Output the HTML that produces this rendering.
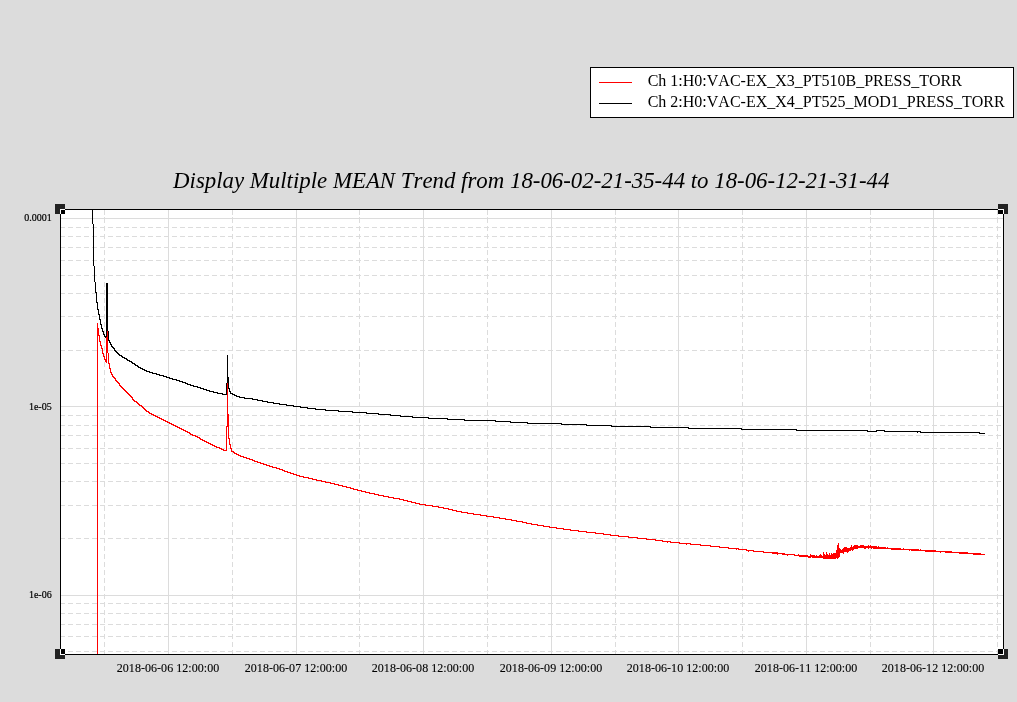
<!DOCTYPE html>
<html><head><meta charset="utf-8"><title>Trend</title>
<style>
html,body{margin:0;padding:0;background:#dcdcdc;}
body{width:1017px;height:702px;overflow:hidden;font-family:"Liberation Serif",serif;}
svg{display:block;position:absolute;left:0;top:0}
text{font-family:"Liberation Serif",serif;fill:#000;font-kerning:none}
</style></head><body>
<svg width="1017" height="702" viewBox="0 0 1017 702">
<rect x="0" y="0" width="1017" height="702" fill="#dcdcdc"/>

<g shape-rendering="crispEdges">
<rect x="590.5" y="67.5" width="423" height="50" fill="#fff" stroke="#000" stroke-width="1"/>
<rect x="599" y="82" width="33" height="1" fill="#f00"/>
<rect x="599" y="103" width="33" height="1" fill="#000"/>
<rect x="55" y="204" width="10" height="10" fill="#222"/>
<rect x="998" y="204" width="10" height="10" fill="#222"/>
<rect x="55" y="649" width="10" height="10" fill="#222"/>
<rect x="998" y="649" width="10" height="10" fill="#222"/>
<rect x="60" y="209" width="944" height="446" fill="#fff"/>
<rect x="60" y="218" width="943" height="1" fill="#dcdcdc"/><rect x="60" y="406" width="943" height="1" fill="#dcdcdc"/><rect x="60" y="595" width="943" height="1" fill="#dcdcdc"/><rect x="168" y="209" width="1" height="445" fill="#dcdcdc"/><rect x="296" y="209" width="1" height="445" fill="#dcdcdc"/><rect x="423" y="209" width="1" height="445" fill="#dcdcdc"/><rect x="551" y="209" width="1" height="445" fill="#dcdcdc"/><rect x="678" y="209" width="1" height="445" fill="#dcdcdc"/><rect x="806" y="209" width="1" height="445" fill="#dcdcdc"/><rect x="933" y="209" width="1" height="445" fill="#dcdcdc"/>
<path d="M60 227.5H1003M60 236.5H1003M60 247.5H1003M60 260.5H1003M60 275.5H1003M60 293.5H1003M60 316.5H1003M60 350.5H1003M60 415.5H1003M60 425.5H1003M60 435.5H1003M60 448.5H1003M60 463.5H1003M60 481.5H1003M60 505.5H1003M60 538.5H1003M60 603.5H1003M60 613.5H1003M60 624.5H1003M60 636.5H1003M60 651.5H1003" stroke="#dcdcdc" stroke-width="1" stroke-dasharray="5 3" fill="none"/>
<path d="M104.5 210V654M232.5 210V654M359.5 210V654M487.5 210V654M615.5 210V654M742.5 210V654M870.5 210V654M997.5 210V654" stroke="#dcdcdc" stroke-width="1" stroke-dasharray="5 3" fill="none"/>
<rect x="104" y="217" width="1" height="1" fill="#dcdcdc"/><rect x="232" y="217" width="1" height="1" fill="#dcdcdc"/><rect x="359" y="217" width="1" height="1" fill="#dcdcdc"/><rect x="487" y="217" width="1" height="1" fill="#dcdcdc"/><rect x="615" y="217" width="1" height="1" fill="#dcdcdc"/><rect x="742" y="217" width="1" height="1" fill="#dcdcdc"/><rect x="870" y="217" width="1" height="1" fill="#dcdcdc"/><rect x="997" y="217" width="1" height="1" fill="#dcdcdc"/>
<path d="M92 210h1v14h-1zM93 224h1v42h-1zM94 266h1v16h-1zM95 282h1v11h-1zM96 292h1v11h-1zM97 302h1v8h-1zM98 309h1v6h-1zM99 314h1v6h-1zM100 319h1v6h-1zM101 324h1v5h-1zM102 328h1v4h-1zM103 331h1v4h-1zM104 334h1v3h-1zM105 336h1v2h-1zM106 283h1v56h-1zM107 283h1v56h-1zM108 331h1v7h-1zM108 337h1v4h-1zM109 340h1v3h-1zM110 342h1v3h-1zM111 344h1v3h-1zM112 346h1v2h-1zM113 347h1v2h-1zM114 348h1v3h-1zM115 350h1v2h-1zM116 351h1v2h-1zM117 352h1v2h-1zM118 353h1v2h-1zM119 354h1v2h-1zM120 355h1v1h-1zM121 355h1v2h-1zM122 356h1v2h-1zM123 357h1v1h-1zM124 357h1v2h-1zM125 358h1v1h-1zM126 358h1v2h-1zM127 359h1v2h-1zM128 360h1v1h-1zM129 360h1v2h-1zM130 361h1v1h-1zM131 361h1v2h-1zM132 362h1v2h-1zM133 363h1v1h-1zM134 363h1v2h-1zM135 364h1v2h-1zM136 365h1v1h-1zM137 365h1v2h-1zM138 366h1v2h-1zM139 367h1v1h-1zM140 367h1v2h-1zM141 368h1v1h-1zM142 368h1v2h-1zM143 369h1v1h-1zM144 369h1v2h-1zM145 370h1v1h-1zM146 370h1v2h-1zM147 371h1v1h-1zM148 371h1v1h-1zM149 371h1v2h-1zM150 372h1v1h-1zM151 372h1v1h-1zM152 372h1v2h-1zM153 373h1v1h-1zM154 373h1v1h-1zM155 373h1v1h-1zM156 373h1v2h-1zM157 374h1v1h-1zM158 374h1v1h-1zM159 374h1v2h-1zM160 375h1v1h-1zM161 375h1v1h-1zM162 375h1v1h-1zM163 375h1v2h-1zM164 376h1v1h-1zM165 376h1v1h-1zM166 376h1v2h-1zM167 377h1v1h-1zM168 377h1v1h-1zM169 377h1v2h-1zM170 378h1v1h-1zM171 378h1v1h-1zM172 378h1v2h-1zM173 379h1v1h-1zM174 379h1v1h-1zM175 379h1v1h-1zM176 379h1v2h-1zM177 380h1v1h-1zM178 380h1v1h-1zM179 380h1v2h-1zM180 381h1v1h-1zM181 381h1v1h-1zM182 381h1v2h-1zM183 382h1v1h-1zM184 382h1v1h-1zM185 382h1v2h-1zM186 383h1v1h-1zM187 383h1v2h-1zM188 384h1v1h-1zM189 384h1v1h-1zM190 384h1v2h-1zM191 385h1v1h-1zM192 385h1v1h-1zM193 385h1v2h-1zM194 386h1v1h-1zM195 386h1v1h-1zM196 386h1v1h-1zM197 386h1v2h-1zM198 387h1v1h-1zM199 387h1v1h-1zM200 387h1v2h-1zM201 388h1v1h-1zM202 388h1v1h-1zM203 388h1v2h-1zM204 389h1v1h-1zM205 389h1v1h-1zM206 389h1v2h-1zM207 390h1v1h-1zM208 390h1v1h-1zM209 390h1v2h-1zM210 391h1v1h-1zM211 391h1v1h-1zM212 391h1v1h-1zM213 391h1v2h-1zM214 392h1v1h-1zM215 392h1v1h-1zM216 392h1v1h-1zM217 392h1v2h-1zM218 393h1v1h-1zM219 393h1v1h-1zM220 393h1v1h-1zM221 393h1v1h-1zM222 393h1v2h-1zM223 394h1v1h-1zM224 394h1v1h-1zM225 394h1v1h-1zM226 383h1v12h-1zM227 355h1v29h-1zM228 377h1v12h-1zM229 388h1v4h-1zM230 391h1v3h-1zM231 393h1v1h-1zM232 393h1v2h-1zM233 394h1v1h-1zM234 394h1v2h-1zM235 395h1v1h-1zM236 395h1v2h-1zM237 396h1v1h-1zM238 396h1v1h-1zM239 396h1v2h-1zM240 397h1v1h-1zM241 397h1v1h-1zM242 397h1v1h-1zM243 397h1v1h-1zM244 397h1v2h-1zM245 398h1v1h-1zM246 398h1v1h-1zM247 398h1v1h-1zM248 398h1v1h-1zM249 398h1v1h-1zM250 398h1v1h-1zM251 398h1v1h-1zM252 398h1v2h-1zM253 399h1v1h-1zM254 399h1v1h-1zM255 399h1v1h-1zM256 399h1v1h-1zM257 399h1v2h-1zM258 400h1v1h-1zM259 400h1v1h-1zM260 400h1v1h-1zM261 400h1v1h-1zM262 400h1v2h-1zM263 401h1v1h-1zM264 401h1v1h-1zM265 401h1v1h-1zM266 401h1v1h-1zM267 401h1v2h-1zM268 402h1v1h-1zM269 402h1v1h-1zM270 402h1v1h-1zM271 402h1v1h-1zM272 402h1v1h-1zM273 402h1v2h-1zM274 403h1v1h-1zM275 403h1v1h-1zM276 403h1v1h-1zM277 403h1v1h-1zM278 403h1v1h-1zM279 403h1v2h-1zM280 404h1v1h-1zM281 404h1v1h-1zM282 404h1v1h-1zM283 404h1v1h-1zM284 404h1v1h-1zM285 404h1v1h-1zM286 404h1v2h-1zM287 405h1v1h-1zM288 405h1v1h-1zM289 405h1v1h-1zM290 405h1v1h-1zM291 405h1v1h-1zM292 405h1v1h-1zM293 405h1v2h-1zM294 406h1v1h-1zM295 406h1v1h-1zM296 406h1v1h-1zM297 406h1v1h-1zM298 406h1v1h-1zM299 406h1v1h-1zM300 406h1v2h-1zM301 407h1v1h-1zM302 407h1v1h-1zM303 407h1v1h-1zM304 407h1v1h-1zM305 407h1v1h-1zM306 407h1v1h-1zM307 407h1v2h-1zM308 408h1v1h-1zM309 408h1v1h-1zM310 408h1v1h-1zM311 408h1v1h-1zM312 408h1v1h-1zM313 408h1v1h-1zM314 408h1v1h-1zM315 408h1v2h-1zM316 409h1v1h-1zM317 409h1v1h-1zM318 409h1v1h-1zM319 409h1v1h-1zM320 409h1v1h-1zM321 409h1v1h-1zM322 409h1v1h-1zM323 409h1v1h-1zM324 409h1v1h-1zM325 409h1v2h-1zM326 410h1v1h-1zM327 410h1v1h-1zM328 410h1v1h-1zM329 410h1v1h-1zM330 410h1v1h-1zM331 410h1v1h-1zM332 410h1v1h-1zM333 410h1v1h-1zM334 410h1v1h-1zM335 410h1v1h-1zM336 410h1v1h-1zM337 410h1v1h-1zM338 410h1v2h-1zM339 411h1v1h-1zM340 411h1v1h-1zM341 411h1v1h-1zM342 411h1v1h-1zM343 411h1v1h-1zM344 411h1v1h-1zM345 411h1v1h-1zM346 411h1v1h-1zM347 411h1v1h-1zM348 411h1v1h-1zM349 411h1v1h-1zM350 411h1v1h-1zM351 411h1v1h-1zM352 411h1v2h-1zM353 412h1v1h-1zM354 412h1v1h-1zM355 412h1v1h-1zM356 412h1v1h-1zM357 412h1v1h-1zM358 412h1v1h-1zM359 412h1v1h-1zM360 412h1v1h-1zM361 412h1v1h-1zM362 412h1v1h-1zM363 412h1v1h-1zM364 412h1v1h-1zM365 412h1v1h-1zM366 412h1v2h-1zM367 413h1v1h-1zM368 413h1v1h-1zM369 413h1v1h-1zM370 413h1v1h-1zM371 413h1v1h-1zM372 413h1v1h-1zM373 413h1v1h-1zM374 413h1v1h-1zM375 413h1v1h-1zM376 413h1v1h-1zM377 413h1v1h-1zM378 413h1v2h-1zM379 414h1v1h-1zM380 414h1v1h-1zM381 414h1v1h-1zM382 414h1v1h-1zM383 414h1v1h-1zM384 414h1v1h-1zM385 414h1v1h-1zM386 414h1v1h-1zM387 414h1v1h-1zM388 414h1v1h-1zM389 414h1v1h-1zM390 414h1v2h-1zM391 415h1v1h-1zM392 415h1v1h-1zM393 415h1v1h-1zM394 415h1v1h-1zM395 415h1v1h-1zM396 415h1v1h-1zM397 415h1v1h-1zM398 415h1v1h-1zM399 415h1v1h-1zM400 415h1v2h-1zM401 416h1v1h-1zM402 416h1v1h-1zM403 416h1v1h-1zM404 416h1v1h-1zM405 416h1v1h-1zM406 416h1v1h-1zM407 416h1v1h-1zM408 416h1v1h-1zM409 416h1v1h-1zM410 416h1v1h-1zM411 416h1v1h-1zM412 416h1v2h-1zM413 417h1v1h-1zM414 417h1v1h-1zM415 417h1v1h-1zM416 417h1v1h-1zM417 417h1v1h-1zM418 417h1v1h-1zM419 417h1v1h-1zM420 417h1v1h-1zM421 417h1v1h-1zM422 417h1v1h-1zM423 417h1v1h-1zM424 417h1v1h-1zM425 417h1v1h-1zM426 417h1v1h-1zM427 417h1v1h-1zM428 417h1v2h-1zM429 418h1v1h-1zM430 418h1v1h-1zM431 418h1v1h-1zM432 418h1v1h-1zM433 418h1v1h-1zM434 418h1v1h-1zM435 418h1v1h-1zM436 418h1v1h-1zM437 418h1v1h-1zM438 418h1v1h-1zM439 418h1v1h-1zM440 418h1v1h-1zM441 418h1v1h-1zM442 418h1v1h-1zM443 418h1v1h-1zM444 418h1v1h-1zM445 418h1v1h-1zM446 418h1v1h-1zM447 418h1v2h-1zM448 419h1v1h-1zM449 419h1v1h-1zM450 419h1v1h-1zM451 419h1v1h-1zM452 419h1v1h-1zM453 419h1v1h-1zM454 419h1v1h-1zM455 419h1v1h-1zM456 419h1v1h-1zM457 419h1v1h-1zM458 419h1v1h-1zM459 419h1v1h-1zM460 419h1v1h-1zM461 419h1v1h-1zM462 419h1v1h-1zM463 419h1v1h-1zM464 419h1v2h-1zM465 420h1v1h-1zM466 420h1v1h-1zM467 420h1v1h-1zM468 420h1v1h-1zM469 420h1v1h-1zM470 420h1v1h-1zM471 420h1v1h-1zM472 420h1v1h-1zM473 420h1v1h-1zM474 420h1v1h-1zM475 420h1v1h-1zM476 420h1v1h-1zM477 420h1v1h-1zM478 420h1v1h-1zM479 420h1v1h-1zM480 420h1v1h-1zM481 420h1v1h-1zM482 420h1v1h-1zM483 420h1v1h-1zM484 420h1v1h-1zM485 420h1v1h-1zM486 420h1v1h-1zM487 420h1v1h-1zM488 420h1v1h-1zM489 420h1v1h-1zM490 420h1v1h-1zM491 420h1v1h-1zM492 420h1v1h-1zM493 420h1v1h-1zM494 420h1v1h-1zM495 420h1v2h-1zM496 421h1v1h-1zM497 421h1v1h-1zM498 421h1v1h-1zM499 421h1v1h-1zM500 421h1v1h-1zM501 421h1v1h-1zM502 421h1v1h-1zM503 421h1v1h-1zM504 421h1v1h-1zM505 421h1v1h-1zM506 421h1v1h-1zM507 421h1v1h-1zM508 421h1v1h-1zM509 421h1v1h-1zM510 421h1v2h-1zM511 422h1v1h-1zM512 422h1v1h-1zM513 422h1v1h-1zM514 422h1v1h-1zM515 422h1v1h-1zM516 422h1v1h-1zM517 422h1v1h-1zM518 422h1v1h-1zM519 422h1v1h-1zM520 422h1v1h-1zM521 422h1v1h-1zM522 422h1v1h-1zM523 422h1v1h-1zM524 422h1v1h-1zM525 422h1v1h-1zM526 422h1v1h-1zM527 422h1v2h-1zM528 423h1v1h-1zM529 423h1v1h-1zM530 423h1v1h-1zM531 423h1v1h-1zM532 423h1v1h-1zM533 423h1v1h-1zM534 423h1v1h-1zM535 423h1v1h-1zM536 423h1v1h-1zM537 423h1v1h-1zM538 423h1v1h-1zM539 423h1v1h-1zM540 423h1v1h-1zM541 423h1v1h-1zM542 423h1v1h-1zM543 423h1v1h-1zM544 423h1v1h-1zM545 423h1v1h-1zM546 423h1v1h-1zM547 423h1v1h-1zM548 423h1v1h-1zM549 423h1v1h-1zM550 423h1v1h-1zM551 423h1v1h-1zM552 423h1v1h-1zM553 423h1v1h-1zM554 423h1v1h-1zM555 423h1v1h-1zM556 423h1v1h-1zM557 423h1v1h-1zM558 423h1v1h-1zM559 423h1v1h-1zM560 423h1v1h-1zM561 423h1v2h-1zM562 424h1v1h-1zM563 424h1v1h-1zM564 424h1v1h-1zM565 424h1v1h-1zM566 424h1v1h-1zM567 424h1v1h-1zM568 424h1v1h-1zM569 424h1v1h-1zM570 424h1v1h-1zM571 424h1v1h-1zM572 424h1v1h-1zM573 424h1v1h-1zM574 424h1v1h-1zM575 424h1v1h-1zM576 424h1v1h-1zM577 424h1v1h-1zM578 424h1v1h-1zM579 424h1v1h-1zM580 424h1v1h-1zM581 424h1v1h-1zM582 424h1v1h-1zM583 424h1v1h-1zM584 424h1v1h-1zM585 424h1v1h-1zM586 424h1v2h-1zM587 425h1v1h-1zM588 425h1v1h-1zM589 425h1v1h-1zM590 425h1v1h-1zM591 425h1v1h-1zM592 425h1v1h-1zM593 425h1v1h-1zM594 425h1v1h-1zM595 425h1v1h-1zM596 425h1v1h-1zM597 425h1v1h-1zM598 425h1v1h-1zM599 425h1v1h-1zM600 425h1v1h-1zM601 425h1v1h-1zM602 425h1v1h-1zM603 425h1v1h-1zM604 425h1v1h-1zM605 425h1v1h-1zM606 425h1v1h-1zM607 425h1v1h-1zM608 425h1v1h-1zM609 425h1v1h-1zM610 425h1v1h-1zM611 425h1v2h-1zM612 426h1v1h-1zM613 426h1v1h-1zM614 426h1v1h-1zM615 426h1v1h-1zM616 426h1v1h-1zM617 426h1v1h-1zM618 426h1v1h-1zM619 426h1v1h-1zM620 426h1v1h-1zM621 426h1v1h-1zM622 426h1v1h-1zM623 426h1v1h-1zM624 426h1v1h-1zM625 426h1v1h-1zM626 426h1v1h-1zM627 426h1v1h-1zM628 426h1v1h-1zM629 426h1v1h-1zM630 426h1v1h-1zM631 426h1v1h-1zM632 426h1v1h-1zM633 426h1v1h-1zM634 426h1v1h-1zM635 426h1v1h-1zM636 426h1v1h-1zM637 426h1v1h-1zM638 426h1v1h-1zM639 426h1v1h-1zM640 426h1v1h-1zM641 426h1v1h-1zM642 426h1v1h-1zM643 426h1v1h-1zM644 426h1v1h-1zM645 426h1v1h-1zM646 426h1v1h-1zM647 426h1v1h-1zM648 426h1v1h-1zM649 426h1v1h-1zM650 426h1v2h-1zM651 427h1v1h-1zM652 427h1v1h-1zM653 427h1v1h-1zM654 427h1v1h-1zM655 427h1v1h-1zM656 427h1v1h-1zM657 427h1v1h-1zM658 427h1v1h-1zM659 427h1v1h-1zM660 427h1v1h-1zM661 427h1v1h-1zM662 427h1v1h-1zM663 427h1v1h-1zM664 427h1v1h-1zM665 427h1v1h-1zM666 427h1v1h-1zM667 427h1v1h-1zM668 427h1v1h-1zM669 427h1v1h-1zM670 427h1v1h-1zM671 427h1v1h-1zM672 427h1v1h-1zM673 427h1v1h-1zM674 427h1v1h-1zM675 427h1v1h-1zM676 427h1v1h-1zM677 427h1v1h-1zM678 427h1v1h-1zM679 427h1v1h-1zM680 427h1v1h-1zM681 427h1v1h-1zM682 427h1v1h-1zM683 427h1v1h-1zM684 427h1v1h-1zM685 427h1v1h-1zM686 427h1v1h-1zM687 427h1v1h-1zM688 427h1v2h-1zM689 428h1v1h-1zM690 428h1v1h-1zM691 428h1v1h-1zM692 428h1v1h-1zM693 428h1v1h-1zM694 428h1v1h-1zM695 428h1v1h-1zM696 428h1v1h-1zM697 428h1v1h-1zM698 428h1v1h-1zM699 428h1v1h-1zM700 428h1v1h-1zM701 428h1v1h-1zM702 428h1v1h-1zM703 428h1v1h-1zM704 428h1v1h-1zM705 428h1v1h-1zM706 428h1v1h-1zM707 428h1v1h-1zM708 428h1v1h-1zM709 428h1v1h-1zM710 428h1v1h-1zM711 428h1v1h-1zM712 428h1v1h-1zM713 428h1v1h-1zM714 428h1v1h-1zM715 428h1v1h-1zM716 428h1v1h-1zM717 428h1v1h-1zM718 428h1v1h-1zM719 428h1v1h-1zM720 428h1v1h-1zM721 428h1v1h-1zM722 428h1v1h-1zM723 428h1v1h-1zM724 428h1v1h-1zM725 428h1v1h-1zM726 428h1v1h-1zM727 428h1v1h-1zM728 428h1v1h-1zM729 428h1v1h-1zM730 428h1v1h-1zM731 428h1v1h-1zM732 428h1v1h-1zM733 428h1v1h-1zM734 428h1v1h-1zM735 428h1v1h-1zM736 428h1v1h-1zM737 428h1v1h-1zM738 428h1v1h-1zM739 428h1v1h-1zM740 428h1v1h-1zM741 428h1v2h-1zM742 429h1v1h-1zM743 429h1v1h-1zM744 429h1v1h-1zM745 429h1v1h-1zM746 429h1v1h-1zM747 429h1v1h-1zM748 429h1v1h-1zM749 429h1v1h-1zM750 429h1v1h-1zM751 429h1v1h-1zM752 429h1v1h-1zM753 429h1v1h-1zM754 429h1v1h-1zM755 429h1v1h-1zM756 429h1v1h-1zM757 429h1v1h-1zM758 429h1v1h-1zM759 429h1v1h-1zM760 429h1v1h-1zM761 429h1v1h-1zM762 429h1v1h-1zM763 429h1v1h-1zM764 429h1v1h-1zM765 429h1v1h-1zM766 429h1v1h-1zM767 429h1v1h-1zM768 429h1v1h-1zM769 429h1v1h-1zM770 429h1v1h-1zM771 429h1v1h-1zM772 429h1v1h-1zM773 429h1v1h-1zM774 429h1v1h-1zM775 429h1v1h-1zM776 429h1v1h-1zM777 429h1v1h-1zM778 429h1v1h-1zM779 429h1v1h-1zM780 429h1v1h-1zM781 429h1v1h-1zM782 429h1v1h-1zM783 429h1v1h-1zM784 429h1v1h-1zM785 429h1v1h-1zM786 429h1v1h-1zM787 429h1v1h-1zM788 429h1v1h-1zM789 429h1v1h-1zM790 429h1v1h-1zM791 429h1v1h-1zM792 429h1v1h-1zM793 429h1v1h-1zM794 429h1v1h-1zM795 429h1v1h-1zM796 429h1v2h-1zM797 430h1v1h-1zM798 430h1v1h-1zM799 430h1v1h-1zM800 430h1v1h-1zM801 430h1v1h-1zM802 430h1v1h-1zM803 430h1v1h-1zM804 430h1v1h-1zM805 430h1v1h-1zM806 430h1v1h-1zM807 430h1v1h-1zM808 430h1v1h-1zM809 430h1v1h-1zM810 430h1v1h-1zM811 430h1v1h-1zM812 430h1v1h-1zM813 430h1v1h-1zM814 430h1v1h-1zM815 430h1v1h-1zM816 430h1v1h-1zM817 430h1v1h-1zM818 430h1v1h-1zM819 430h1v1h-1zM820 430h1v1h-1zM821 430h1v1h-1zM822 430h1v1h-1zM823 430h1v1h-1zM824 430h1v1h-1zM825 430h1v1h-1zM826 430h1v1h-1zM827 430h1v1h-1zM828 430h1v1h-1zM829 430h1v1h-1zM830 430h1v1h-1zM831 430h1v1h-1zM832 430h1v1h-1zM833 430h1v1h-1zM834 430h1v1h-1zM835 430h1v1h-1zM836 430h1v1h-1zM837 430h1v1h-1zM838 430h1v1h-1zM839 430h1v1h-1zM840 430h1v1h-1zM841 430h1v1h-1zM842 430h1v1h-1zM843 430h1v1h-1zM844 430h1v1h-1zM845 430h1v1h-1zM846 430h1v1h-1zM847 430h1v1h-1zM848 430h1v1h-1zM849 430h1v1h-1zM850 430h1v1h-1zM851 430h1v1h-1zM852 430h1v1h-1zM853 430h1v1h-1zM854 430h1v1h-1zM855 430h1v1h-1zM856 430h1v1h-1zM857 430h1v1h-1zM858 430h1v1h-1zM859 430h1v1h-1zM860 430h1v1h-1zM861 430h1v1h-1zM862 430h1v1h-1zM863 430h1v1h-1zM864 430h1v1h-1zM865 430h1v1h-1zM866 430h1v1h-1zM867 430h1v2h-1zM868 431h1v1h-1zM869 431h1v1h-1zM870 431h1v1h-1zM871 431h1v1h-1zM872 431h1v1h-1zM873 431h1v1h-1zM874 431h1v1h-1zM875 431h1v1h-1zM876 430h1v2h-1zM877 430h1v1h-1zM878 430h1v1h-1zM879 430h1v1h-1zM880 430h1v1h-1zM881 430h1v1h-1zM882 430h1v1h-1zM883 430h1v1h-1zM884 430h1v2h-1zM885 431h1v1h-1zM886 431h1v1h-1zM887 431h1v1h-1zM888 431h1v1h-1zM889 431h1v1h-1zM890 431h1v1h-1zM891 431h1v1h-1zM892 431h1v1h-1zM893 431h1v1h-1zM894 431h1v1h-1zM895 431h1v1h-1zM896 431h1v1h-1zM897 431h1v1h-1zM898 431h1v1h-1zM899 431h1v1h-1zM900 431h1v1h-1zM901 431h1v1h-1zM902 431h1v1h-1zM903 431h1v1h-1zM904 431h1v1h-1zM905 431h1v1h-1zM906 431h1v1h-1zM907 431h1v1h-1zM908 431h1v1h-1zM909 431h1v1h-1zM910 431h1v1h-1zM911 431h1v1h-1zM912 431h1v1h-1zM913 431h1v1h-1zM914 431h1v1h-1zM915 431h1v1h-1zM916 431h1v1h-1zM917 431h1v1h-1zM917 431h1v2h-1zM918 431h1v1h-1zM919 431h1v1h-1zM920 431h1v2h-1zM921 432h1v1h-1zM922 432h1v1h-1zM923 432h1v1h-1zM924 432h1v1h-1zM925 432h1v1h-1zM926 432h1v1h-1zM927 432h1v1h-1zM928 432h1v1h-1zM929 432h1v1h-1zM930 432h1v1h-1zM931 432h1v1h-1zM932 432h1v1h-1zM933 432h1v1h-1zM934 432h1v1h-1zM935 432h1v1h-1zM936 432h1v1h-1zM937 432h1v1h-1zM938 432h1v1h-1zM939 432h1v1h-1zM940 432h1v1h-1zM941 432h1v1h-1zM942 432h1v1h-1zM943 432h1v1h-1zM944 432h1v1h-1zM945 432h1v1h-1zM946 432h1v1h-1zM947 432h1v1h-1zM948 432h1v1h-1zM949 432h1v1h-1zM950 432h1v1h-1zM951 432h1v1h-1zM952 432h1v1h-1zM953 432h1v1h-1zM954 432h1v1h-1zM955 432h1v1h-1zM956 432h1v1h-1zM957 432h1v1h-1zM958 432h1v1h-1zM959 432h1v1h-1zM960 432h1v1h-1zM961 432h1v1h-1zM962 432h1v1h-1zM963 432h1v1h-1zM964 432h1v1h-1zM965 432h1v1h-1zM966 432h1v1h-1zM967 432h1v1h-1zM968 432h1v1h-1zM969 432h1v1h-1zM970 432h1v1h-1zM971 432h1v1h-1zM972 432h1v1h-1zM973 432h1v1h-1zM974 432h1v1h-1zM975 432h1v1h-1zM976 432h1v1h-1zM977 432h1v1h-1zM978 432h1v1h-1zM979 432h1v2h-1zM980 433h1v1h-1zM981 433h1v1h-1zM982 433h1v1h-1zM983 433h1v1h-1zM984 433h1v1h-1z" fill="#000"/>
<path d="M97 323h1v331h-1zM98 328h1v8h-1zM99 335h1v7h-1zM100 341h1v5h-1zM101 345h1v4h-1zM102 348h1v6h-1zM103 353h1v4h-1zM104 356h1v4h-1zM105 359h1v3h-1zM106 337h1v26h-1zM107 331h1v22h-1zM108 353h1v11h-1zM109 363h1v6h-1zM110 368h1v5h-1zM111 372h1v3h-1zM112 374h1v3h-1zM113 376h1v2h-1zM114 377h1v2h-1zM115 378h1v3h-1zM116 380h1v2h-1zM117 381h1v2h-1zM118 382h1v2h-1zM119 383h1v3h-1zM120 385h1v2h-1zM121 386h1v2h-1zM122 387h1v2h-1zM123 388h1v2h-1zM124 389h1v2h-1zM125 390h1v2h-1zM126 391h1v2h-1zM127 392h1v2h-1zM128 393h1v2h-1zM129 394h1v2h-1zM130 395h1v2h-1zM131 396h1v2h-1zM132 397h1v3h-1zM133 399h1v2h-1zM134 400h1v2h-1zM135 401h1v1h-1zM136 401h1v2h-1zM137 402h1v2h-1zM138 403h1v2h-1zM139 404h1v2h-1zM140 405h1v1h-1zM141 405h1v2h-1zM142 406h1v2h-1zM143 407h1v2h-1zM144 408h1v2h-1zM145 409h1v2h-1zM146 410h1v2h-1zM147 411h1v1h-1zM148 411h1v2h-1zM149 412h1v2h-1zM150 413h1v1h-1zM151 413h1v2h-1zM152 414h1v1h-1zM153 414h1v2h-1zM154 415h1v1h-1zM155 415h1v2h-1zM156 416h1v1h-1zM157 416h1v2h-1zM158 417h1v1h-1zM159 417h1v2h-1zM160 418h1v1h-1zM161 418h1v2h-1zM162 419h1v1h-1zM163 419h1v2h-1zM164 420h1v1h-1zM165 420h1v2h-1zM166 421h1v1h-1zM167 421h1v2h-1zM168 422h1v1h-1zM169 422h1v2h-1zM170 423h1v1h-1zM171 423h1v2h-1zM172 424h1v1h-1zM173 424h1v2h-1zM174 425h1v1h-1zM175 425h1v2h-1zM176 426h1v1h-1zM177 426h1v2h-1zM178 427h1v1h-1zM179 427h1v2h-1zM180 428h1v1h-1zM181 428h1v2h-1zM182 429h1v1h-1zM183 429h1v2h-1zM184 430h1v1h-1zM185 430h1v2h-1zM186 431h1v1h-1zM187 431h1v2h-1zM188 432h1v1h-1zM189 432h1v2h-1zM190 433h1v2h-1zM191 434h1v1h-1zM192 434h1v2h-1zM193 435h1v1h-1zM194 435h1v1h-1zM195 435h1v2h-1zM196 436h1v1h-1zM197 436h1v2h-1zM198 437h1v1h-1zM199 437h1v2h-1zM200 438h1v2h-1zM201 439h1v1h-1zM202 439h1v2h-1zM203 440h1v1h-1zM204 440h1v2h-1zM205 441h1v1h-1zM206 441h1v2h-1zM207 442h1v1h-1zM208 442h1v2h-1zM209 443h1v1h-1zM210 443h1v2h-1zM211 444h1v1h-1zM212 444h1v2h-1zM213 445h1v1h-1zM214 445h1v2h-1zM215 446h1v1h-1zM216 446h1v2h-1zM217 447h1v1h-1zM218 447h1v1h-1zM219 447h1v2h-1zM220 448h1v1h-1zM221 448h1v2h-1zM222 449h1v1h-1zM223 449h1v2h-1zM224 450h1v1h-1zM225 450h1v1h-1zM226 426h1v25h-1zM227 383h1v44h-1zM228 414h1v25h-1zM229 438h1v7h-1zM230 444h1v5h-1zM231 448h1v4h-1zM232 451h1v1h-1zM233 451h1v2h-1zM234 452h1v2h-1zM235 453h1v1h-1zM236 453h1v2h-1zM237 454h1v1h-1zM238 454h1v2h-1zM239 455h1v1h-1zM240 455h1v2h-1zM241 456h1v1h-1zM242 456h1v1h-1zM243 456h1v2h-1zM244 457h1v1h-1zM245 457h1v1h-1zM246 457h1v2h-1zM247 458h1v1h-1zM248 458h1v1h-1zM249 458h1v2h-1zM250 459h1v1h-1zM251 459h1v1h-1zM252 459h1v2h-1zM253 460h1v1h-1zM254 460h1v2h-1zM255 461h1v1h-1zM256 461h1v1h-1zM257 461h1v2h-1zM258 462h1v1h-1zM259 462h1v1h-1zM260 462h1v2h-1zM261 463h1v1h-1zM262 463h1v1h-1zM263 463h1v2h-1zM264 464h1v1h-1zM265 464h1v1h-1zM266 464h1v2h-1zM267 465h1v1h-1zM268 465h1v1h-1zM269 465h1v2h-1zM270 466h1v1h-1zM271 466h1v1h-1zM272 466h1v2h-1zM273 467h1v1h-1zM274 467h1v1h-1zM275 467h1v1h-1zM276 467h1v2h-1zM277 468h1v1h-1zM278 468h1v1h-1zM279 468h1v2h-1zM280 469h1v1h-1zM281 469h1v1h-1zM282 469h1v2h-1zM283 470h1v1h-1zM284 470h1v2h-1zM285 471h1v1h-1zM286 471h1v1h-1zM287 471h1v2h-1zM288 472h1v1h-1zM289 472h1v1h-1zM290 472h1v2h-1zM291 473h1v1h-1zM292 473h1v1h-1zM293 473h1v2h-1zM294 474h1v1h-1zM295 474h1v1h-1zM296 474h1v2h-1zM297 475h1v1h-1zM298 475h1v1h-1zM299 475h1v2h-1zM300 476h1v1h-1zM301 476h1v1h-1zM302 476h1v1h-1zM303 476h1v2h-1zM304 477h1v1h-1zM305 477h1v1h-1zM306 477h1v1h-1zM307 477h1v1h-1zM308 477h1v2h-1zM309 478h1v1h-1zM310 478h1v1h-1zM311 478h1v1h-1zM312 478h1v2h-1zM313 479h1v1h-1zM314 479h1v1h-1zM315 479h1v1h-1zM316 479h1v2h-1zM317 480h1v1h-1zM318 480h1v1h-1zM319 480h1v1h-1zM320 480h1v1h-1zM321 480h1v2h-1zM322 481h1v1h-1zM323 481h1v1h-1zM324 481h1v1h-1zM325 481h1v2h-1zM326 482h1v1h-1zM327 482h1v1h-1zM328 482h1v1h-1zM329 482h1v1h-1zM330 482h1v2h-1zM331 483h1v1h-1zM332 483h1v1h-1zM333 483h1v1h-1zM334 483h1v2h-1zM335 484h1v1h-1zM336 484h1v1h-1zM337 484h1v1h-1zM338 484h1v2h-1zM339 485h1v1h-1zM340 485h1v1h-1zM341 485h1v1h-1zM342 485h1v2h-1zM343 486h1v1h-1zM344 486h1v1h-1zM345 486h1v1h-1zM346 486h1v2h-1zM347 487h1v1h-1zM348 487h1v1h-1zM349 487h1v1h-1zM350 487h1v2h-1zM351 488h1v1h-1zM352 488h1v1h-1zM353 488h1v2h-1zM354 489h1v1h-1zM355 489h1v1h-1zM356 489h1v1h-1zM357 489h1v2h-1zM358 490h1v1h-1zM359 490h1v1h-1zM360 490h1v1h-1zM361 490h1v2h-1zM362 491h1v1h-1zM363 491h1v1h-1zM364 491h1v1h-1zM365 491h1v2h-1zM366 492h1v1h-1zM367 492h1v1h-1zM368 492h1v1h-1zM369 492h1v2h-1zM370 493h1v1h-1zM371 493h1v1h-1zM372 493h1v1h-1zM373 493h1v1h-1zM374 493h1v2h-1zM375 494h1v1h-1zM376 494h1v1h-1zM377 494h1v1h-1zM378 494h1v2h-1zM379 495h1v1h-1zM380 495h1v1h-1zM381 495h1v1h-1zM382 495h1v1h-1zM383 495h1v2h-1zM384 496h1v1h-1zM385 496h1v1h-1zM386 496h1v1h-1zM387 496h1v1h-1zM388 496h1v2h-1zM389 497h1v1h-1zM390 497h1v1h-1zM391 497h1v1h-1zM392 497h1v1h-1zM393 497h1v2h-1zM394 498h1v1h-1zM395 498h1v1h-1zM396 498h1v1h-1zM397 498h1v1h-1zM398 498h1v1h-1zM399 498h1v2h-1zM400 499h1v1h-1zM401 499h1v1h-1zM402 499h1v1h-1zM403 499h1v2h-1zM404 500h1v1h-1zM405 500h1v1h-1zM406 500h1v1h-1zM407 500h1v2h-1zM408 501h1v1h-1zM409 501h1v1h-1zM410 501h1v1h-1zM411 501h1v2h-1zM412 502h1v1h-1zM413 502h1v1h-1zM414 502h1v1h-1zM415 502h1v2h-1zM416 503h1v1h-1zM417 503h1v1h-1zM418 503h1v1h-1zM419 503h1v2h-1zM420 504h1v1h-1zM421 504h1v1h-1zM422 504h1v1h-1zM423 504h1v1h-1zM424 504h1v1h-1zM425 504h1v2h-1zM426 505h1v1h-1zM427 505h1v1h-1zM428 505h1v1h-1zM429 505h1v1h-1zM430 505h1v1h-1zM431 505h1v1h-1zM432 505h1v2h-1zM433 506h1v1h-1zM434 506h1v1h-1zM435 506h1v1h-1zM436 506h1v1h-1zM437 506h1v1h-1zM438 506h1v2h-1zM439 507h1v1h-1zM440 507h1v1h-1zM441 507h1v1h-1zM442 507h1v1h-1zM443 507h1v2h-1zM444 508h1v1h-1zM445 508h1v1h-1zM446 508h1v1h-1zM447 508h1v1h-1zM448 508h1v2h-1zM449 509h1v1h-1zM450 509h1v1h-1zM451 509h1v1h-1zM452 509h1v2h-1zM453 510h1v1h-1zM454 510h1v1h-1zM455 510h1v1h-1zM456 510h1v2h-1zM457 511h1v1h-1zM458 511h1v1h-1zM459 511h1v1h-1zM460 511h1v1h-1zM461 511h1v2h-1zM462 512h1v1h-1zM463 512h1v1h-1zM464 512h1v1h-1zM465 512h1v1h-1zM466 512h1v1h-1zM467 512h1v2h-1zM468 513h1v1h-1zM469 513h1v1h-1zM470 513h1v1h-1zM471 513h1v1h-1zM472 513h1v1h-1zM473 513h1v2h-1zM474 514h1v1h-1zM475 514h1v1h-1zM476 514h1v1h-1zM477 514h1v1h-1zM478 514h1v1h-1zM479 514h1v1h-1zM480 514h1v2h-1zM481 515h1v1h-1zM482 515h1v1h-1zM483 515h1v1h-1zM484 515h1v1h-1zM485 515h1v1h-1zM486 515h1v2h-1zM487 516h1v1h-1zM488 516h1v1h-1zM489 516h1v1h-1zM490 516h1v1h-1zM491 516h1v1h-1zM492 516h1v1h-1zM493 516h1v2h-1zM494 517h1v1h-1zM495 517h1v1h-1zM496 517h1v1h-1zM497 517h1v1h-1zM498 517h1v1h-1zM499 517h1v2h-1zM500 518h1v1h-1zM501 518h1v1h-1zM502 518h1v1h-1zM503 518h1v1h-1zM504 518h1v1h-1zM505 518h1v2h-1zM506 519h1v1h-1zM507 519h1v1h-1zM508 519h1v1h-1zM509 519h1v1h-1zM510 519h1v1h-1zM511 519h1v2h-1zM512 520h1v1h-1zM513 520h1v1h-1zM514 520h1v1h-1zM515 520h1v1h-1zM516 520h1v2h-1zM517 521h1v1h-1zM518 521h1v1h-1zM519 521h1v1h-1zM520 521h1v1h-1zM521 521h1v1h-1zM522 521h1v2h-1zM523 522h1v1h-1zM524 522h1v1h-1zM525 522h1v1h-1zM526 522h1v2h-1zM527 523h1v1h-1zM528 523h1v1h-1zM529 523h1v1h-1zM530 523h1v1h-1zM531 523h1v2h-1zM532 524h1v1h-1zM533 524h1v1h-1zM534 524h1v1h-1zM535 524h1v1h-1zM536 524h1v1h-1zM537 524h1v2h-1zM538 525h1v1h-1zM539 525h1v1h-1zM540 525h1v1h-1zM541 525h1v1h-1zM542 525h1v1h-1zM543 525h1v2h-1zM544 526h1v1h-1zM545 526h1v1h-1zM546 526h1v1h-1zM547 526h1v1h-1zM548 526h1v1h-1zM549 526h1v2h-1zM550 527h1v1h-1zM551 527h1v1h-1zM552 527h1v1h-1zM553 527h1v1h-1zM554 527h1v1h-1zM555 527h1v1h-1zM556 527h1v2h-1zM557 528h1v1h-1zM558 528h1v1h-1zM559 528h1v1h-1zM560 528h1v1h-1zM561 528h1v1h-1zM562 528h1v1h-1zM563 528h1v2h-1zM564 529h1v1h-1zM565 529h1v1h-1zM566 529h1v1h-1zM567 529h1v1h-1zM568 529h1v1h-1zM569 529h1v1h-1zM570 529h1v2h-1zM571 530h1v1h-1zM572 530h1v1h-1zM573 530h1v1h-1zM574 530h1v1h-1zM575 530h1v1h-1zM576 530h1v1h-1zM577 530h1v1h-1zM578 530h1v2h-1zM579 531h1v1h-1zM580 531h1v1h-1zM581 531h1v1h-1zM582 531h1v1h-1zM583 531h1v1h-1zM584 531h1v1h-1zM585 531h1v1h-1zM586 531h1v2h-1zM587 532h1v1h-1zM588 532h1v1h-1zM589 532h1v1h-1zM590 532h1v1h-1zM591 532h1v1h-1zM592 532h1v1h-1zM593 532h1v1h-1zM594 532h1v1h-1zM595 532h1v2h-1zM596 533h1v1h-1zM597 533h1v1h-1zM598 533h1v1h-1zM599 533h1v1h-1zM600 533h1v1h-1zM601 533h1v1h-1zM602 533h1v1h-1zM603 533h1v2h-1zM604 534h1v1h-1zM605 534h1v1h-1zM606 534h1v1h-1zM607 534h1v1h-1zM608 534h1v1h-1zM609 534h1v1h-1zM610 534h1v2h-1zM611 535h1v1h-1zM612 535h1v1h-1zM613 535h1v1h-1zM614 535h1v1h-1zM615 535h1v1h-1zM616 535h1v1h-1zM617 535h1v1h-1zM618 535h1v2h-1zM619 536h1v1h-1zM620 536h1v1h-1zM621 536h1v1h-1zM622 536h1v1h-1zM623 536h1v1h-1zM624 536h1v1h-1zM625 536h1v1h-1zM626 536h1v1h-1zM627 536h1v1h-1zM628 536h1v2h-1zM629 537h1v1h-1zM630 537h1v1h-1zM631 537h1v1h-1zM632 537h1v1h-1zM633 537h1v1h-1zM634 537h1v1h-1zM635 537h1v1h-1zM636 537h1v1h-1zM637 537h1v2h-1zM638 538h1v1h-1zM639 538h1v1h-1zM640 538h1v1h-1zM641 538h1v1h-1zM642 538h1v1h-1zM643 538h1v1h-1zM644 538h1v1h-1zM645 538h1v1h-1zM646 538h1v2h-1zM647 539h1v1h-1zM648 539h1v1h-1zM649 539h1v1h-1zM650 539h1v1h-1zM651 539h1v1h-1zM652 539h1v1h-1zM653 539h1v1h-1zM654 539h1v1h-1zM655 539h1v2h-1zM656 540h1v1h-1zM657 540h1v1h-1zM658 540h1v1h-1zM659 540h1v1h-1zM660 540h1v1h-1zM661 540h1v1h-1zM662 540h1v2h-1zM663 541h1v1h-1zM664 541h1v1h-1zM665 541h1v1h-1zM666 541h1v1h-1zM667 541h1v1h-1zM667 541h1v2h-1zM668 541h1v1h-1zM669 541h1v1h-1zM670 541h1v2h-1zM671 542h1v1h-1zM672 542h1v1h-1zM673 542h1v1h-1zM674 542h1v1h-1zM675 542h1v1h-1zM676 542h1v1h-1zM677 542h1v1h-1zM678 542h1v1h-1zM679 542h1v2h-1zM680 543h1v1h-1zM681 543h1v1h-1zM682 543h1v1h-1zM683 543h1v1h-1zM684 543h1v1h-1zM685 543h1v1h-1zM686 543h1v1h-1zM686 543h1v2h-1zM687 543h1v1h-1zM688 543h1v1h-1zM689 543h1v1h-1zM690 543h1v2h-1zM691 544h1v1h-1zM692 544h1v1h-1zM693 544h1v1h-1zM694 544h1v1h-1zM695 544h1v1h-1zM696 544h1v1h-1zM697 544h1v1h-1zM698 544h1v1h-1zM699 544h1v1h-1zM700 544h1v2h-1zM701 545h1v1h-1zM702 545h1v1h-1zM703 545h1v1h-1zM704 545h1v1h-1zM705 545h1v1h-1zM706 545h1v1h-1zM707 545h1v1h-1zM708 545h1v1h-1zM709 545h1v1h-1zM710 545h1v2h-1zM711 546h1v1h-1zM712 546h1v1h-1zM713 546h1v1h-1zM714 546h1v1h-1zM715 546h1v1h-1zM716 546h1v1h-1zM717 546h1v1h-1zM718 546h1v1h-1zM719 546h1v2h-1zM720 547h1v1h-1zM721 547h1v1h-1zM722 547h1v1h-1zM723 547h1v1h-1zM724 547h1v1h-1zM725 547h1v1h-1zM726 547h1v1h-1zM727 547h1v1h-1zM728 547h1v2h-1zM729 548h1v1h-1zM730 548h1v1h-1zM731 548h1v1h-1zM732 548h1v1h-1zM733 548h1v1h-1zM734 548h1v1h-1zM735 548h1v1h-1zM736 548h1v1h-1zM736 548h1v2h-1zM737 548h1v1h-1zM738 548h1v2h-1zM738 548h1v2h-1zM739 549h1v1h-1zM740 549h1v1h-1zM741 549h1v1h-1zM742 549h1v1h-1zM743 549h1v1h-1zM744 549h1v1h-1zM745 549h1v1h-1zM746 549h1v2h-1zM747 550h1v1h-1zM748 550h1v1h-1zM748 550h1v2h-1zM749 550h1v1h-1zM750 550h1v1h-1zM751 550h1v1h-1zM752 550h1v1h-1zM753 550h1v2h-1zM753 550h1v2h-1zM754 551h1v1h-1zM755 551h1v1h-1zM756 551h1v1h-1zM757 551h1v1h-1zM758 551h1v1h-1zM759 551h1v1h-1zM760 551h1v1h-1zM761 551h1v1h-1zM762 551h1v1h-1zM763 551h1v2h-1zM764 552h1v1h-1zM765 552h1v1h-1zM766 552h1v1h-1zM767 552h1v1h-1zM768 552h1v1h-1zM769 552h1v1h-1zM770 552h1v1h-1zM771 552h1v1h-1zM772 552h1v1h-1zM772 552h1v2h-1zM773 552h1v1h-1zM773 552h1v2h-1zM774 552h1v1h-1zM774 552h1v2h-1zM774 552h1v2h-1zM775 552h1v1h-1zM775 552h1v2h-1zM776 552h1v2h-1zM776 552h1v2h-1zM777 553h1v1h-1zM777 553h1v2h-1zM777 552h1v2h-1zM778 553h1v1h-1zM779 553h1v1h-1zM780 553h1v1h-1zM781 553h1v1h-1zM782 553h1v1h-1zM782 553h1v2h-1zM783 553h1v1h-1zM783 553h1v2h-1zM784 553h1v2h-1zM784 553h1v2h-1zM785 554h1v1h-1zM786 554h1v1h-1zM787 554h1v1h-1zM787 554h1v2h-1zM788 554h1v1h-1zM789 554h1v1h-1zM790 554h1v1h-1zM791 554h1v1h-1zM792 554h1v1h-1zM793 554h1v1h-1zM794 554h1v2h-1zM795 555h1v1h-1zM796 555h1v1h-1zM797 555h1v1h-1zM798 554h1v2h-1zM799 555h1v2h-1zM800 555h1v2h-1zM801 555h1v2h-1zM802 555h1v2h-1zM803 555h1v2h-1zM804 555h1v2h-1zM805 555h1v2h-1zM806 555h1v2h-1zM807 555h1v2h-1zM808 556h1v2h-1zM809 556h1v2h-1zM810 554h1v4h-1zM811 555h1v2h-1zM812 555h1v3h-1zM813 555h1v3h-1zM814 555h1v3h-1zM815 556h1v2h-1zM816 555h1v3h-1zM817 556h1v2h-1zM818 556h1v2h-1zM819 555h1v3h-1zM820 554h1v4h-1zM821 555h1v3h-1zM822 556h1v2h-1zM823 552h1v7h-1zM824 554h1v5h-1zM825 555h1v4h-1zM826 552h1v7h-1zM827 554h1v5h-1zM828 555h1v4h-1zM829 553h1v6h-1zM830 555h1v4h-1zM831 553h1v6h-1zM832 554h1v5h-1zM833 553h1v6h-1zM834 553h1v6h-1zM835 553h1v6h-1zM836 550h1v8h-1zM837 545h1v14h-1zM838 543h1v15h-1zM839 548h1v9h-1zM840 549h1v4h-1zM841 550h1v3h-1zM842 549h1v4h-1zM843 548h1v6h-1zM844 547h1v5h-1zM845 547h1v5h-1zM846 547h1v5h-1zM847 548h1v5h-1zM848 548h1v4h-1zM849 548h1v3h-1zM850 547h1v4h-1zM851 545h1v5h-1zM852 547h1v4h-1zM853 546h1v4h-1zM854 545h1v4h-1zM855 545h1v4h-1zM856 545h1v4h-1zM857 545h1v4h-1zM858 546h1v2h-1zM859 546h1v2h-1zM860 545h1v3h-1zM861 545h1v3h-1zM862 545h1v3h-1zM863 545h1v3h-1zM864 546h1v3h-1zM865 546h1v3h-1zM866 546h1v2h-1zM867 546h1v2h-1zM868 545h1v4h-1zM869 546h1v2h-1zM870 545h1v3h-1zM871 546h1v3h-1zM872 546h1v2h-1zM873 546h1v3h-1zM874 546h1v3h-1zM875 546h1v3h-1zM876 546h1v3h-1zM877 547h1v2h-1zM878 546h1v3h-1zM879 547h1v2h-1zM880 547h1v2h-1zM881 547h1v2h-1zM882 547h1v2h-1zM883 547h1v2h-1zM884 547h1v2h-1zM885 547h1v2h-1zM886 548h1v1h-1zM887 548h1v1h-1zM887 547h1v2h-1zM888 548h1v1h-1zM889 548h1v1h-1zM890 548h1v1h-1zM891 548h1v2h-1zM892 548h1v2h-1zM893 548h1v2h-1zM894 548h1v2h-1zM895 548h1v2h-1zM896 548h1v2h-1zM897 548h1v2h-1zM898 548h1v2h-1zM899 548h1v2h-1zM900 548h1v2h-1zM901 549h1v1h-1zM902 549h1v1h-1zM903 549h1v1h-1zM903 548h1v2h-1zM904 549h1v1h-1zM905 549h1v1h-1zM906 549h1v1h-1zM907 549h1v1h-1zM908 549h1v1h-1zM909 549h1v1h-1zM909 549h1v2h-1zM910 549h1v1h-1zM911 549h1v2h-1zM912 549h1v2h-1zM913 549h1v2h-1zM914 549h1v2h-1zM915 549h1v2h-1zM916 549h1v2h-1zM917 549h1v2h-1zM918 549h1v2h-1zM919 550h1v1h-1zM920 550h1v1h-1zM920 549h1v2h-1zM921 550h1v1h-1zM922 550h1v1h-1zM923 550h1v1h-1zM924 550h1v1h-1zM925 550h1v2h-1zM926 550h1v2h-1zM927 550h1v2h-1zM928 550h1v2h-1zM929 550h1v2h-1zM930 550h1v2h-1zM931 550h1v2h-1zM932 550h1v2h-1zM933 550h1v2h-1zM934 550h1v2h-1zM935 550h1v2h-1zM936 551h1v1h-1zM937 551h1v1h-1zM938 551h1v1h-1zM939 551h1v1h-1zM940 551h1v1h-1zM940 551h1v2h-1zM941 551h1v1h-1zM942 551h1v1h-1zM943 551h1v1h-1zM944 551h1v1h-1zM945 551h1v2h-1zM946 551h1v2h-1zM947 551h1v2h-1zM948 551h1v2h-1zM949 551h1v2h-1zM950 551h1v2h-1zM951 551h1v2h-1zM952 552h1v1h-1zM953 552h1v1h-1zM954 552h1v1h-1zM955 552h1v1h-1zM956 552h1v1h-1zM957 552h1v1h-1zM958 552h1v1h-1zM959 552h1v2h-1zM960 552h1v2h-1zM961 552h1v2h-1zM962 552h1v2h-1zM963 552h1v2h-1zM964 552h1v2h-1zM965 552h1v2h-1zM966 552h1v2h-1zM967 552h1v2h-1zM968 553h1v1h-1zM969 553h1v1h-1zM970 553h1v1h-1zM971 553h1v1h-1zM972 553h1v1h-1zM973 553h1v2h-1zM974 553h1v2h-1zM975 553h1v2h-1zM976 553h1v2h-1zM977 553h1v2h-1zM978 553h1v2h-1zM979 553h1v2h-1zM980 553h1v2h-1zM981 554h1v1h-1zM982 554h1v1h-1zM983 554h1v1h-1zM984 554h1v1h-1z" fill="#f00"/>
<rect x="60.5" y="209.5" width="943" height="445" fill="none" stroke="#000" stroke-width="1"/>
<rect x="60" y="209" width="5" height="1" fill="#fff"/>
<rect x="60" y="209" width="1" height="5" fill="#fff"/>
<rect x="61" y="210" width="4" height="4" fill="#000"/>
<rect x="998" y="209" width="6" height="1" fill="#fff"/>
<rect x="1003" y="209" width="1" height="5" fill="#fff"/>
<rect x="998" y="210" width="5" height="4" fill="#000"/>
<rect x="60" y="654" width="5" height="1" fill="#fff"/>
<rect x="60" y="649" width="1" height="6" fill="#fff"/>
<rect x="61" y="649" width="4" height="5" fill="#000"/>
<rect x="998" y="654" width="6" height="1" fill="#fff"/>
<rect x="1003" y="649" width="1" height="6" fill="#fff"/>
<rect x="998" y="649" width="5" height="5" fill="#000"/>
</g>
<mask id="tm" maskUnits="userSpaceOnUse" x="0" y="0" width="1017" height="702"><rect x="0" y="0" width="1017" height="702" fill="#fff"/></mask><g mask="url(#tm)">
<text x="647.7" y="86" font-size="16">Ch 1:H0:VAC-EX_X3_PT510B_PRESS_TORR</text>
<text x="647.7" y="107" font-size="16">Ch 2:H0:VAC-EX_X4_PT525_MOD1_PRESS_TORR</text>
<text x="531.2" y="188" font-size="22.85" font-style="italic" text-anchor="middle">Display Multiple MEAN Trend from 18-06-02-21-35-44 to 18-06-12-21-31-44</text>
<text x="168" y="672" font-size="12" text-anchor="middle" textLength="102.5" lengthAdjust="spacing" stroke="#000" stroke-width="0.12">2018-06-06 12:00:00</text>
<text x="296" y="672" font-size="12" text-anchor="middle" textLength="102.5" lengthAdjust="spacing" stroke="#000" stroke-width="0.12">2018-06-07 12:00:00</text>
<text x="423" y="672" font-size="12" text-anchor="middle" textLength="102.5" lengthAdjust="spacing" stroke="#000" stroke-width="0.12">2018-06-08 12:00:00</text>
<text x="551" y="672" font-size="12" text-anchor="middle" textLength="102.5" lengthAdjust="spacing" stroke="#000" stroke-width="0.12">2018-06-09 12:00:00</text>
<text x="678" y="672" font-size="12" text-anchor="middle" textLength="102.5" lengthAdjust="spacing" stroke="#000" stroke-width="0.12">2018-06-10 12:00:00</text>
<text x="806" y="672" font-size="12" text-anchor="middle" textLength="102.5" lengthAdjust="spacing" stroke="#000" stroke-width="0.12">2018-06-11 12:00:00</text>
<text x="933" y="672" font-size="12" text-anchor="middle" textLength="102.5" lengthAdjust="spacing" stroke="#000" stroke-width="0.12">2018-06-12 12:00:00</text>
<text x="51.7" y="221" font-size="10" stroke="#000" stroke-width="0.2" text-anchor="end">0.0001</text>
<text x="51.7" y="410" font-size="10" stroke="#000" stroke-width="0.2" text-anchor="end">1e-05</text>
<text x="51.7" y="598" font-size="10" stroke="#000" stroke-width="0.2" text-anchor="end">1e-06</text>
</g>
</svg></body></html>
